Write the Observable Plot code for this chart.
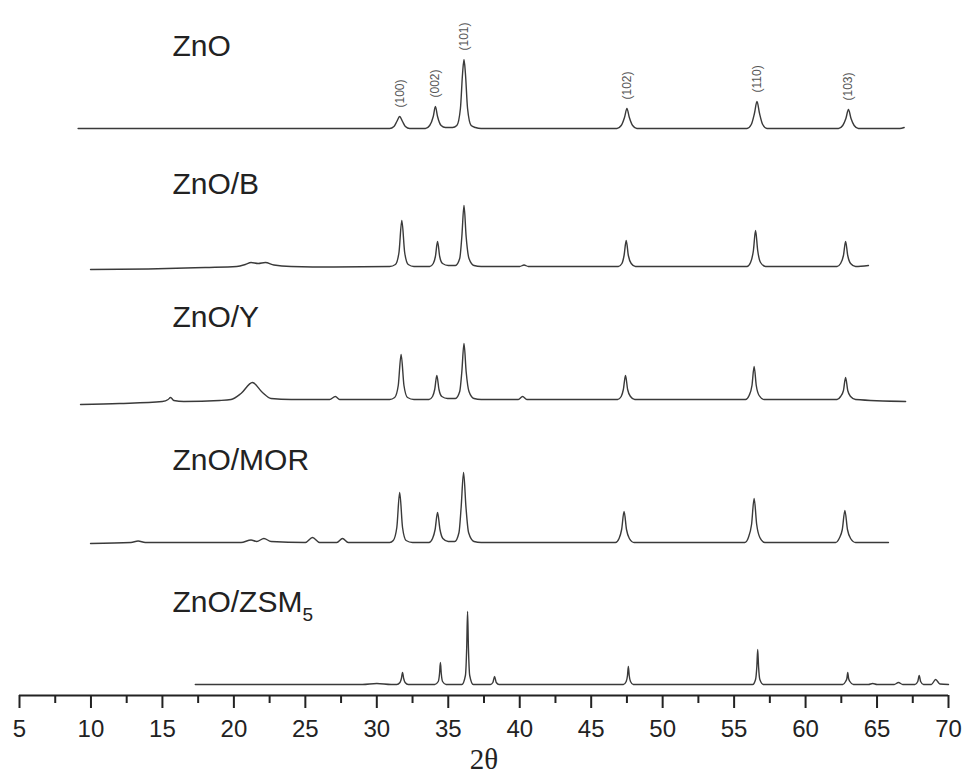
<!DOCTYPE html>
<html>
<head>
<meta charset="utf-8">
<script src="https://cdn.jsdelivr.net/npm/d3@7"></script>
<script src="https://cdn.jsdelivr.net/npm/@observablehq/plot@0.6"></script>
<style>
  html, body { margin: 0; padding: 0; background: #fff; }
</style>
</head>
<body>
<div id="chart"></div>
<script>
// ---- data (2θ, relative intensity above each trace's baseline) ----
const seriesNames = ["ZnO", "ZnO/B", "ZnO/Y", "ZnO/MOR", "ZnO/ZSM5"];
// vertical stacking offset of each pattern (intensity units, a.u.)
const seriesOffsets = [567, 429, 296, 153, 11];

const znoPattern = [
  [9.1,0],[30.9,0],[31.2,2],[31.4,7],[31.6,12],[31.8,7],[32.0,2],[32.3,0],
  [33.4,0],[33.7,3],[33.95,12],[34.1,22],[34.25,12],[34.5,3],[34.8,1],
  [35.3,1],[35.6,3],[35.85,20],[36.0,55],[36.1,69],[36.2,55],[36.35,20],[36.6,3],[36.9,1],[37.3,0],
  [46.8,0],[47.1,3],[47.33,11],[47.5,20],[47.67,11],[47.9,3],[48.2,0],
  [55.9,0],[56.2,4],[56.42,15],[56.6,27],[56.78,15],[57.0,4],[57.3,0],
  [62.3,0],[62.6,3],[62.82,10],[63.0,19],[63.18,10],[63.4,3],[63.7,0],
  [66.6,0],[66.9,1]
];
const znoBPattern = [
  [9.97,-3],[14,-2.5],[18,-1],[20.2,0],[20.8,2],[21.2,4],[21.7,3],[22.2,4],[22.8,1.5],[24,0],[27,-0.5],[30.9,0],
  [31.3,2],[31.55,14],[31.75,46],[31.95,14],[32.2,2],[32.6,0],
  [33.7,0],[33.95,3],[34.1,10],[34.25,25],[34.4,10],[34.6,3],[35.0,1],
  [35.5,1],[35.8,8],[35.95,30],[36.1,61],[36.25,30],[36.45,8],[36.8,1],[37.3,0],
  [40.0,0],[40.3,1.5],[40.6,0],
  [46.9,0],[47.15,3],[47.3,11],[47.45,26],[47.6,11],[47.8,3],[48.1,0],
  [55.9,0],[56.15,4],[56.35,16],[56.5,36],[56.65,16],[56.85,4],[57.2,0],
  [62.2,0],[62.45,3],[62.65,11],[62.8,25],[62.95,11],[63.15,3],[63.5,0],[64.4,1]
];
const znoYPattern = [
  [9.27,-5],[12,-4],[15.0,-2],[15.4,0],[15.57,2],[15.8,-1],[16.5,-2],[19,-1],[19.8,0],[20.5,6],[21.3,17],[22.0,7],[22.6,1],
  [24,0],[26.7,0],[27.1,3],[27.4,0],[30.9,0],
  [31.25,2],[31.5,14],[31.7,45],[31.9,14],[32.15,2],[32.6,0],
  [33.65,0],[33.9,3],[34.05,10],[34.2,24],[34.35,10],[34.55,3],[34.95,1],
  [35.5,1],[35.8,8],[35.95,28],[36.1,56],[36.25,28],[36.45,8],[36.8,1],[37.3,0],
  [39.9,0],[40.2,3],[40.5,0],
  [46.85,0],[47.1,3],[47.25,10],[47.4,24],[47.55,10],[47.75,3],[48.05,0],
  [55.8,0],[56.05,4],[56.25,14],[56.4,33],[56.55,14],[56.75,4],[57.1,0],
  [62.2,0],[62.45,3],[62.65,9],[62.8,22],[62.95,9],[63.15,3],[63.5,0],[67.0,-2]
];
const znoMorPattern = [
  [9.97,-1],[12.8,0],[13.3,1.5],[13.8,0],[20.5,0],[21.2,2.5],[21.6,1],[22.1,4],[22.6,1],[25.0,0],[25.5,5],[26.0,0],
  [27.2,0],[27.6,4],[28.0,0],[30.9,0],
  [31.15,2],[31.4,15],[31.6,50],[31.8,15],[32.05,2],[32.5,0],
  [33.65,0],[33.9,4],[34.08,13],[34.25,30],[34.42,13],[34.62,4],[35.0,1],
  [35.45,1],[35.75,10],[35.9,35],[36.07,70],[36.24,35],[36.42,10],[36.8,1],[37.3,0],
  [46.7,0],[46.95,4],[47.13,13],[47.3,31],[47.47,13],[47.67,4],[48.0,0],
  [55.75,0],[56.0,5],[56.22,18],[56.4,44],[56.58,18],[56.8,5],[57.15,0],
  [62.1,0],[62.35,4],[62.57,13],[62.75,32],[62.93,13],[63.15,4],[63.5,0],[65.8,0]
];
const znoZsmPattern = [
  [17.3,0],[29.0,0],[30.0,1],[31.0,0],
  [31.4,0],[31.62,2],[31.72,6],[31.8,12],[31.88,6],[31.98,2],[32.2,0],
  [34.05,0],[34.3,3],[34.39,11],[34.45,22],[34.51,11],[34.6,3],[34.85,0],
  [35.95,0],[36.2,9],[36.29,37],[36.35,73],[36.41,37],[36.5,9],[36.75,0],
  [37.95,0],[38.12,2],[38.24,8],[38.36,2],[38.55,0],
  [47.25,0],[47.45,3],[47.54,9],[47.6,18],[47.66,9],[47.75,3],[47.95,0],
  [56.3,0],[56.5,5],[56.59,18],[56.65,35],[56.71,18],[56.8,5],[57.05,0],
  [62.6,0],[62.8,3],[62.89,6],[62.95,12],[63.01,6],[63.1,3],[63.35,0],
  [64.4,0],[64.7,1],[65.0,0],[66.2,0],[66.5,2],[66.8,0],
  [67.65,0],[67.85,3],[67.95,9],[68.05,3],[68.25,0],[68.8,0],[69.1,5],[69.4,0.5],[70.0,0]
];
const seriesPatterns = [znoPattern, znoBPattern, znoYPattern, znoMorPattern, znoZsmPattern];

// ZnO reflections marked above the top pattern
const hklLabels = ["(100)", "(002)", "(101)", "(102)", "(110)", "(103)"];
const hklTwoTheta = [31.6, 34.1, 36.1, 47.5, 56.6, 63.0];
const hklIntensity = [12, 22, 69, 20, 27, 19];

// axis ticks
const majorTicks = [5, 10, 15, 20, 25, 30, 35, 40, 45, 50, 55, 60, 65, 70];
const minorTicks = [7.5, 12.5, 17.5, 22.5, 27.5, 32.5, 37.5, 42.5, 47.5, 52.5, 57.5, 62.5, 67.5];
const xAxisLabel = "2θ";

// ---- build tables ----
const rows = [];
seriesPatterns.forEach((pat, i) => {
  pat.forEach(([x, v]) => rows.push({series: seriesNames[i], x, y: seriesOffsets[i] + v}));
});
const hklRows = hklLabels.map((t, i) => ({text: t, x: hklTwoTheta[i], y: seriesOffsets[0] + hklIntensity[i]}));
const nameLabelX = 15.7;   // layout constant (2θ units)
const nameLift = 73;       // layout constant (a.u. above baseline)
const nameRows = seriesNames.map((n, i) => ({text: n, x: nameLabelX, y: seriesOffsets[i] + nameLift}));

const chart = Plot.plot({
  width: 967,
  height: 782,
  marginLeft: 19,
  marginRight: 19,
  marginTop: 0,
  marginBottom: 87,
  x: {domain: [5, 70], label: null},
  y: {domain: [0, 695], axis: null, label: null},
  style: {fontFamily: "'Liberation Sans', Arial, sans-serif", background: "#fff", color: "#222"},
  marks: [
    Plot.line(rows, {x: "x", y: "y", z: "series", stroke: "#3a3a3a", strokeWidth: 1.4, curve: "monotone-x"}),
    Plot.text(hklRows, {x: "x", y: "y", text: "text", rotate: -90, textAnchor: "start", dy: -9, fontSize: 12, fill: "#555"}),
    Plot.text(nameRows, {x: "x", y: "y", text: "text", textAnchor: "start", lineAnchor: "bottom", fontSize: 30, fill: "#222"}),
    Plot.ruleY([0], {stroke: "#222", strokeWidth: 2}),
    Plot.axisX({ticks: majorTicks, tickSize: 13, tickPadding: 11, fontSize: 24, strokeWidth: 2, label: null, stroke: "#222"}),
    Plot.axisX({ticks: minorTicks, tickSize: 8, tickFormat: () => "", strokeWidth: 2, label: null, stroke: "#222"}),
    Plot.text([xAxisLabel], {frameAnchor: "bottom", dy: 73, text: d => d, fontFamily: "'Liberation Serif', 'Times New Roman', serif", fontSize: 29, fill: "#222"})
  ]
});

// subscript the "5" of ZSM5
const ns = "http://www.w3.org/2000/svg";
chart.querySelectorAll("text").forEach(t => {
  if (t.textContent === "ZnO/ZSM5") {
    t.textContent = "ZnO/ZSM";
    const ts = document.createElementNS(ns, "tspan");
    ts.setAttribute("font-size", "19");
    ts.setAttribute("dy", "9");
    ts.textContent = "5";
    t.appendChild(ts);
  }
});

document.getElementById("chart").appendChild(chart);
</script>
</body>
</html>
